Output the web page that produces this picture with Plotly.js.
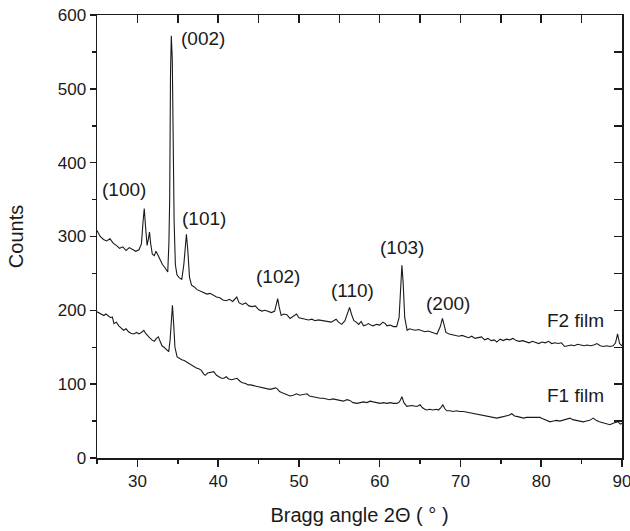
<!DOCTYPE html>
<html>
<head>
<meta charset="utf-8">
<script src="https://cdn.plot.ly/plotly-3.0.1.min.js"></script>
<style>html,body{margin:0;padding:0;background:#fff;}#chart{width:630px;height:531px;}</style>
</head>
<body>
<div id="chart"></div>
<script>
// F2 film pattern (2theta, counts)
const f2X = [25.0,25.4,25.8,26.2,26.6,27.0,27.4,27.8,28.2,28.6,29.0,29.4,29.8,30.2,30.5,30.7,30.85,31.0,31.2,31.35,31.5,31.65,31.85,32.1,32.3,32.5,32.8,33.1,33.4,33.76,33.9,34.0,34.1,34.2,34.32,34.45,34.55,34.7,34.9,35.2,35.5,35.75,35.95,36.07,36.25,36.45,36.7,37.0,37.4,37.8,38.2,38.6,39.0,39.4,39.8,40.2,40.6,41.0,41.4,41.8,42.3,42.6,43.0,43.4,43.8,44.2,44.6,45.0,45.4,45.8,46.2,46.6,47.0,47.2,47.37,47.55,47.8,48.1,48.5,48.9,49.3,49.7,50.0,50.4,50.8,51.2,51.6,52.0,52.4,52.8,53.2,53.6,54.0,54.3,54.6,54.9,55.3,55.7,56.0,56.27,56.5,56.8,57.1,57.4,57.7,58.0,58.3,58.6,58.9,59.2,59.6,60.0,60.4,60.7,60.9,61.3,61.7,62.1,62.4,62.6,62.75,62.9,63.1,63.4,63.7,64.0,64.4,64.8,65.2,65.6,66.0,66.4,66.8,67.1,67.5,67.77,67.95,68.2,68.6,69.0,69.4,69.8,70.2,70.6,71.0,71.4,71.8,72.2,72.6,73.0,73.4,73.8,74.2,74.5,74.9,75.3,75.7,76.1,76.5,76.9,77.3,77.7,78.1,78.5,78.9,79.3,79.7,80.1,80.5,80.9,81.3,81.7,82.1,82.5,82.9,83.3,83.7,84.1,84.5,84.9,85.3,85.7,86.1,86.5,86.9,87.3,87.7,88.1,88.5,88.9,89.2,89.45,89.7,90.0];
const f2Y = [308,300,296,294,297,291,288,284,286,281,285,283,280,282,290,320,338,315,288,296,306,290,276,274,280,276,268,262,258,252,290,350,520,572,540,400,320,262,248,244,242,262,298,303,280,245,234,232,228,226,224,222,223,220,218,217,214,213,215,212,218,210,208,210,206,205,206,201,199,200,198,197,199,208,216,205,193,195,194,189,192,195,190,189,188,187,188,186,187,186,185,185,184,186,188,184,181,186,196,204,195,186,184,181,185,179,180,182,180,179,181,180,184,182,179,180,178,178,190,240,261,238,190,173,175,174,173,174,172,171,172,170,169,168,178,189,180,170,168,167,166,165,166,164,163,165,162,163,164,160,162,159,160,157,161,159,161,160,162,159,158,159,157,156,158,157,155,157,156,158,155,156,155,156,151,152,153,152,154,153,152,153,152,153,155,152,151,152,151,152,156,168,155,152];

// F1 film pattern (2theta, counts)
const f1X = [25.0,25.3,25.6,25.85,26.1,26.4,26.7,26.9,27.1,27.4,27.7,28.0,28.3,28.6,28.9,29.2,29.55,29.9,30.2,30.5,30.8,31.0,31.2,31.5,31.8,32.1,32.35,32.6,32.85,33.05,33.3,33.6,33.88,34.05,34.2,34.34,34.5,34.65,34.92,35.2,35.5,35.8,36.1,36.4,36.7,37.0,37.3,37.6,37.9,38.2,38.4,38.7,39.0,39.45,39.8,40.1,40.4,40.7,41.0,41.3,41.7,42.0,42.34,42.7,43.0,43.4,43.7,44.0,44.4,44.8,45.2,45.6,46.0,46.46,46.8,47.1,47.3,47.6,48.0,48.4,48.9,49.3,49.7,50.1,50.5,51.0,51.3,51.7,52.1,52.64,53.0,53.4,53.8,54.2,54.7,55.1,55.5,55.95,56.3,56.7,57.18,57.6,58.0,58.4,58.83,59.2,59.6,60.07,60.47,60.9,61.3,61.7,62.13,62.45,62.75,63.0,63.37,63.7,64.0,64.4,64.7,65.0,65.3,65.6,65.84,66.2,66.6,67.0,67.27,67.55,67.82,68.05,68.3,68.7,69.1,69.5,69.9,70.37,70.8,71.2,71.6,72.0,72.43,72.8,73.2,73.6,74.0,74.5,74.9,75.3,75.7,76.0,76.35,76.7,77.1,77.5,77.8,78.2,78.6,79.0,79.4,79.85,80.2,80.6,81.1,81.5,81.9,82.3,82.7,83.1,83.56,83.9,84.3,84.7,85.2,85.6,86.0,86.45,86.8,87.2,87.6,88.0,88.5,88.9,89.2,89.5,89.8,90.0];
const f1Y = [198,196,194,193,195,192,190,191,182,184,179,176,173,175,171,169,168,170,168,170,173,169,166,163,160,158,162,164,157,152,150,147,144,160,195,207,180,150,137,135,133,132,130,127,126,124,122,121,119,114,112,115,116,117,112,110,108,108,110,107,106,107,108,104,102,101,99,99,98,96,96,95,94,93,94,95,94,90,88,86,84,85,87,85,86,87,84,83,82,81,81,80,79,80,79,78,77,79,78,75,74,75,76,75,77,76,75,74,75,74,75,74,74,76,83,75,70,71,71,70,70,72,68,66,65,66,65,66,65,68,72,67,64,64,63,64,63,63,62,61,60,59,58,58,57,56,55,54,55,56,57,58,60,57,56,55,54,55,55,54,55,55,53,51,49,50,51,50,51,52,54,52,51,50,49,50,51,54,51,49,48,47,45,47,48,49,46,47];

// Tick values
const xTicks = [30,40,50,60,70,80,90];
const yTicks = [0,100,200,300,400,500,600];

// Peak labels (Miller indices) and positions
const peakLabels = ["(100)","(002)","(101)","(102)","(110)","(103)","(200)"];
const peakLabelX = [28.4,38.1,38.3,47.4,56.66,62.72,68.4];
const peakLabelY = [363,568,325,246,227,285,209];
const filmLabels = ["F2 film","F1 film"];
const filmLabelX = [84.25,84.3];
const filmLabelY = [186,85];

const xTitle = "Bragg angle 2\u0398 ( \u00b0 )";
const yTitle = "Counts";

const FONT = "Arial, 'Liberation Sans', Helvetica, sans-serif";
const ink = "#1a1a1a";

const traces = [
  {x: f2X, y: f2Y, type: "scatter", mode: "lines", name: "F2 film",
   line: {color: ink, width: 1.1}, showlegend: false, hoverinfo: "skip"},
  {x: f1X, y: f1Y, type: "scatter", mode: "lines", name: "F1 film",
   line: {color: ink, width: 1.1}, showlegend: false, hoverinfo: "skip"},
  {x: [], y: [], xaxis: "x2", yaxis: "y2", type: "scatter", mode: "lines", showlegend: false, hoverinfo: "skip"}
];

const annotations = [];
peakLabels.forEach((t, i) => annotations.push({
  x: peakLabelX[i], y: peakLabelY[i], xref: "x", yref: "y", text: t, showarrow: false,
  font: {family: FONT, size: 19, color: ink}, xanchor: "center", yanchor: "middle"
}));
filmLabels.forEach((t, i) => annotations.push({
  x: filmLabelX[i], y: filmLabelY[i], xref: "x", yref: "y", text: t, showarrow: false,
  font: {family: FONT, size: 19, color: ink}, xanchor: "center", yanchor: "middle"
}));

const layout = {
  width: 630, height: 531,
  margin: {l: 96.5, r: 8, t: 14.7, b: 73.3},
  paper_bgcolor: "#fff", plot_bgcolor: "#fff",
  font: {family: FONT, color: ink},
  xaxis: {
    range: [25, 90], tickmode: "array", tickvals: xTicks, ticktext: xTicks.map(String),
    ticklabeloverflow: "allow",
    ticks: "outside", ticklen: 7, tickwidth: 1.5,
    tickcolor: ink, showline: true, linecolor: ink, linewidth: 1.5, mirror: true,
    showgrid: false, zeroline: false, tickfont: {size: 17, family: FONT, color: ink},
    minor: {dtick: 5, tick0: 0, ticks: "outside", ticklen: 4, tickwidth: 1.5, tickcolor: ink, showgrid: false},
    title: {text: xTitle, font: {size: 20, family: FONT, color: ink}, standoff: 18}
  },
  yaxis: {
    range: [0, 600], tickmode: "array", tickvals: yTicks, ticktext: yTicks.map(String),
    ticklabeloverflow: "allow",
    ticks: "outside", ticklen: 6, tickwidth: 1.5,
    tickcolor: ink, showline: true, linecolor: ink, linewidth: 1.5, mirror: true,
    showgrid: false, zeroline: false, tickfont: {size: 17, family: FONT, color: ink},
    minor: {dtick: 50, tick0: 0, ticks: "outside", ticklen: 4, tickwidth: 1.5, tickcolor: ink, showgrid: false},
    title: {text: yTitle, font: {size: 20, family: FONT, color: ink}, standoff: 28}
  },
  xaxis2: {
    overlaying: "x", side: "top", anchor: "y2", range: [25, 90], tick0: 0, dtick: 5,
    ticks: "inside", ticklen: 8, tickwidth: 1.5, tickcolor: ink, showticklabels: false,
    showline: false, showgrid: false, zeroline: false
  },
  yaxis2: {
    overlaying: "y", side: "right", anchor: "x2", range: [0, 600], tick0: 0, dtick: 50,
    ticks: "inside", ticklen: 8, tickwidth: 1.5, tickcolor: ink, showticklabels: false,
    showline: false, showgrid: false, zeroline: false
  },
  annotations: annotations
};

Plotly.newPlot("chart", traces, layout, {displayModeBar: false, staticPlot: true});
</script>
</body>
</html>
